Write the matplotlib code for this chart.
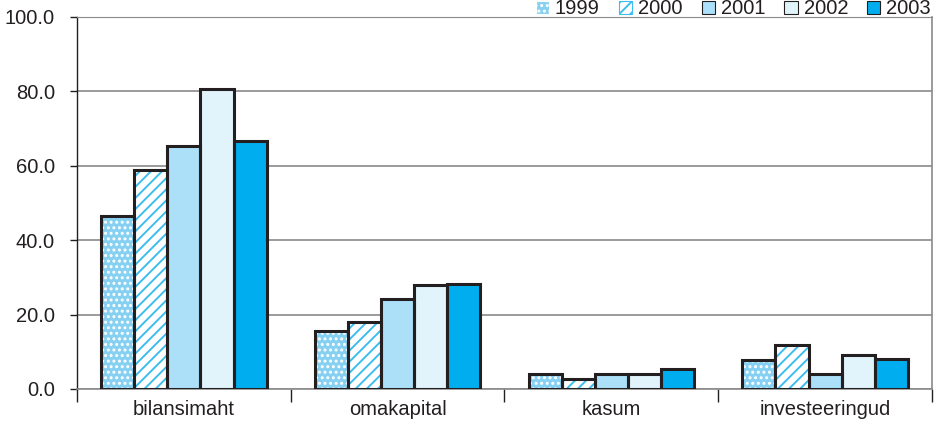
import matplotlib
matplotlib.use("Agg")
import matplotlib.pyplot as plt
import numpy as np
from matplotlib.patches import Patch

plt.rcParams['font.family'] = ['Liberation Sans', 'DejaVu Sans']

categories = ["bilansimaht", "omakapital", "kasum", "investeeringud"]
years = ["1999", "2000", "2001", "2002", "2003"]
v1999 = [46.5, 15.6, 4.0, 7.8]
v2000 = [58.9, 18.0, 2.7, 11.8]
v2001 = [65.3, 24.2, 4.0, 4.0]
v2002 = [80.6, 28.0, 4.0, 9.1]
v2003 = [66.7, 28.2, 5.4, 8.1]
series = [v1999, v2000, v2001, v2002, v2003]
yticks = [0, 20, 40, 60, 80, 100]

styles = [
    dict(face="#86d0f2", hatch="...", hcol="white"),
    dict(face="white", hatch="///", hcol="#3dbdee"),
    dict(face="#acdff8", hatch=None, hcol=None),
    dict(face="#e1f3fb", hatch=None, hcol=None),
    dict(face="#00aeef", hatch=None, hcol=None),
]
edge = "#231f20"
fs = 14.5

fig = plt.figure(figsize=(9.37, 4.26), dpi=100)
ax = fig.add_axes([77/937, 1-389/426, (932-77)/937, (389-17)/426])

x = np.arange(len(categories))
w = 0.155
plt.rcParams['hatch.linewidth'] = 1.4
for i, (vals, st) in enumerate(zip(series, styles)):
    pos = x + (i - 2) * w
    if st["hatch"]:
        ax.bar(pos, vals, w, color=st["face"], edgecolor=st["hcol"], hatch=st["hatch"], linewidth=0, zorder=3)
    else:
        ax.bar(pos, vals, w, color=st["face"], linewidth=0, zorder=3)
    ax.bar(pos, vals, w, fill=False, edgecolor=edge, linewidth=2.2, zorder=4)

ax.set_xlim(-0.5, len(categories) - 0.5)
ax.set_ylim(0, 100)
ax.set_yticks(yticks)
ax.set_yticklabels([f"{t:.1f}" for t in yticks])
ax.yaxis.grid(True, color="#8a8a8a", linewidth=1.2, zorder=0)
ax.set_axisbelow(True)
ax.set_xticks(x)
ax.set_xticklabels(categories)
ax.tick_params(axis="x", length=0, pad=8, labelsize=fs, colors="#231f20")
ax.set_xticks(np.arange(-0.5, len(categories)), minor=True)
ax.tick_params(axis="x", which="minor", length=9, width=1, color="#231f20")
ax.tick_params(axis="y", length=5, width=1, color="#231f20", labelsize=fs, pad=11)
for lab in ax.get_yticklabels():
    lab.set_color("#231f20")
ax.spines["left"].set_color("#231f20")
ax.spines["left"].set_linewidth(1)
ax.spines["bottom"].set_color("#8a8a8a")
ax.spines["bottom"].set_linewidth(1.2)
ax.spines["top"].set_color("#8a8a8a")
ax.spines["right"].set_color("#8a8a8a")
ax.spines["right"].set_linewidth(1.2)

handles = []
for st in styles:
    if st["hatch"]:
        handles.append(Patch(facecolor=st["face"], edgecolor=st["hcol"], hatch=st["hatch"], linewidth=0.8))
    else:
        handles.append(Patch(facecolor=st["face"], edgecolor=edge, linewidth=0.8))
leg = fig.legend(handles, years, loc="center right", bbox_to_anchor=(931/937, 1 - 9/426),
                 ncol=5, frameon=False, fontsize=fs, handlelength=0.65, handleheight=0.65,
                 handletextpad=0.3, columnspacing=0.95, borderaxespad=0, borderpad=0)
for t in leg.get_texts():
    t.set_color("#231f20")

fig.savefig("out.png", dpi=100)
